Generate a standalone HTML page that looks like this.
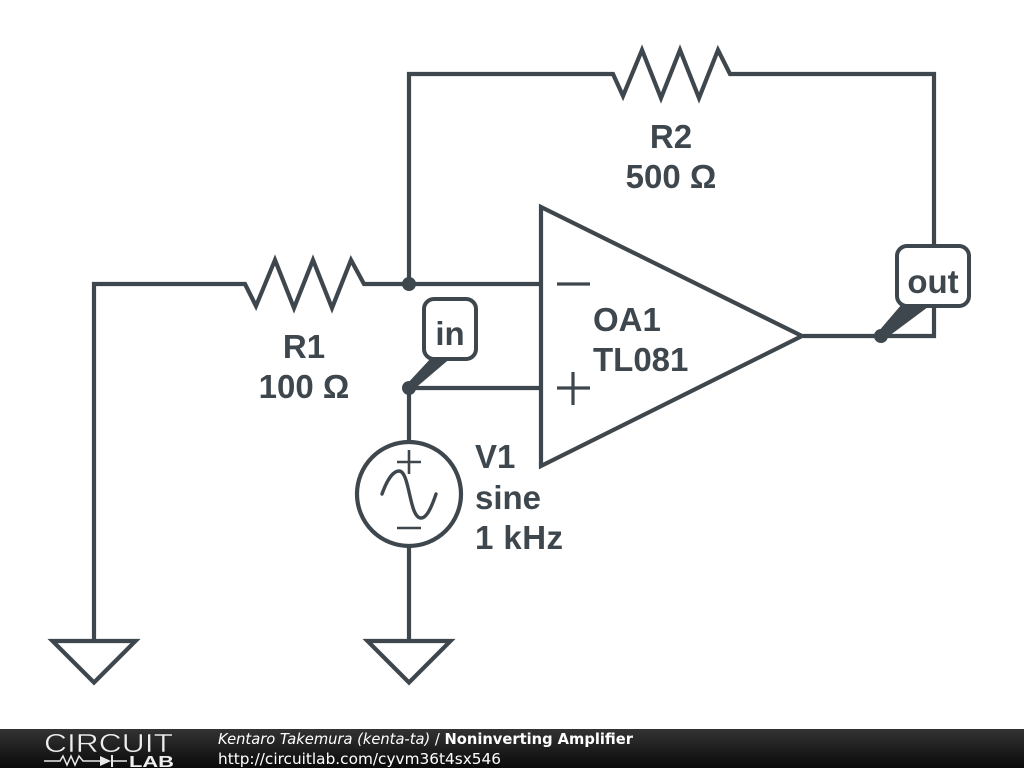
<!DOCTYPE html>
<html><head><meta charset="utf-8"><style>
html,body{margin:0;padding:0;background:#fff;width:1024px;height:768px;overflow:hidden}
svg{display:block}
</style></head><body>
<svg width="1024" height="768" viewBox="0 0 1024 768" xmlns="http://www.w3.org/2000/svg">
<defs><linearGradient id="g" x1="0" y1="0" x2="0" y2="1"><stop offset="0" stop-color="#333"/><stop offset="1" stop-color="#0a0a0a"/></linearGradient></defs>
<rect width="1024" height="768" fill="#fff"/>
<g fill="none" stroke="#3e474d" stroke-width="4.2" stroke-linejoin="miter" stroke-linecap="butt">
<path d="M409 284V74H613L623 96 642 50 661 98 680 50 699 98 718 50 730 74H934V246"/>
<path d="M803 336H934V305"/>
<path d="M94 640V284H245L256 306 275 260 294 308 313 260 332 308 351 260 364 284H540"/>
<path d="M409 388H540"/>
<path d="M409 388V441"/>
<path d="M409 547V640"/>
<path d="M52.5 641H135.5L94 682.5Z"/>
<path d="M367.5 641H450.5L409 682.5Z"/>
<path d="M541 207L802 336 541 466Z"/>
<path d="M557 284H590M557 388H590M573 372V405" stroke-width="3.2"/>
<circle cx="409" cy="494" r="52"/>
<path d="M397 462H421M409 450V474M397 528H421" stroke-width="2.6"/>
<path d="M382 494C387 480 393 471 399 471C410 471 409 518 421 518C427 518 432 506 436 494" stroke-width="3.4" stroke-linecap="round"/>
</g>
<g fill="#3e474d">
<circle cx="409" cy="284" r="7"/>
<circle cx="409" cy="388" r="7"/>
<circle cx="881" cy="336" r="7"/>
<path d="M406 385L433 356H453L412 391Z"/>
<path d="M878 332L902 304H932L885 339Z"/>
</g>
<g fill="#fff" stroke="#3e474d" stroke-width="4">
<rect x="424" y="299" width="52" height="60" rx="10"/>
<rect x="897" y="246" width="72" height="60" rx="10"/>
</g>
<g fill="#3e474d" font-family="'Liberation Sans',sans-serif" font-weight="bold" font-size="33">
<text x="671" y="148" text-anchor="middle">R2</text>
<text x="671" y="188" text-anchor="middle">500 Ω</text>
<text x="304" y="358" text-anchor="middle">R1</text>
<text x="304" y="398" text-anchor="middle">100 Ω</text>
<text x="593" y="331">OA1</text>
<text x="593" y="371">TL081</text>
<text x="475" y="468">V1</text>
<text x="475" y="509">sine</text>
<text x="475" y="549" textLength="88">1 kHz</text>
<text x="450" y="345" text-anchor="middle">in</text>
<text x="933" y="293" text-anchor="middle">out</text>
</g>
<rect x="0" y="729" width="1024" height="39" fill="url(#g)"/>
<text x="44" y="752" font-family="'Liberation Sans',sans-serif" font-size="26" fill="#eee" stroke="#222" stroke-width="0.5" paint-order="normal" textLength="129" lengthAdjust="spacingAndGlyphs">CIRCUIT</text>
<path d="M44 761H60L63 756 67 765 71 756 75 765 79 756 83 761H100M113 761H127" fill="none" stroke="#e8e8e8" stroke-width="1.5"/>
<path d="M100 756V766L111 761ZM111 755H113V767H111Z" fill="#e8e8e8"/>
<text x="129" y="767" font-family="'Liberation Sans',sans-serif" font-size="16" font-weight="bold" fill="#eee" textLength="45" lengthAdjust="spacingAndGlyphs">LAB</text>
<text x="218" y="744" font-family="'DejaVu Sans',sans-serif" font-size="14.7" fill="#fff" textLength="415" lengthAdjust="spacingAndGlyphs"><tspan font-style="italic">Kentaro Takemura (kenta-ta)</tspan> / <tspan font-weight="bold">Noninverting Amplifier</tspan></text>
<text x="218" y="764" font-family="'DejaVu Sans',sans-serif" font-size="15.3" fill="#fff" textLength="283" lengthAdjust="spacingAndGlyphs">http://circuitlab.com/cyvm36t4sx546</text>
</svg>
</body></html>
